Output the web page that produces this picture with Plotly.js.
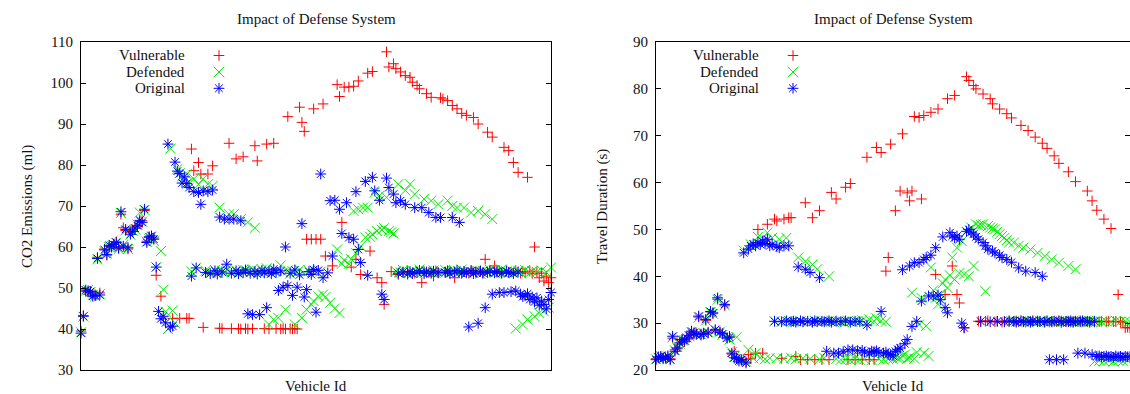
<!DOCTYPE html>
<html>
<head>
<meta charset="utf-8">
<script src="https://cdn.plot.ly/plotly-3.0.1.min.js"></script>
<style>html,body{margin:0;padding:0;background:#fff;}#chart{width:1130px;height:394px;}</style>
</head>
<body>
<div id="chart"></div>
<script>
// ---------- DATA: [vehicle id, value] ----------
const chartTitle = 'Impact of Defense System';
const seriesNames = ['Vulnerable', 'Defended', 'Original'];
const xLabel = 'Vehicle Id';
const co2Label = 'CO2 Emissions (ml)';
const timeLabel = 'Travel Duration (s)';

// CO2 Emissions (ml)
const co2Vulnerable = [[0,39.5],[1,43.3],[2,49.2],[3,49.0],[4,48.8],[5,48.5],[6,48.1],[7,57.5],[8,48.8],[10,59.5],[11,58.0],[12,60.1],[13,60.2],[14,60.8],[15,61.3],[16,59.6],[17,68.0],[18,64.7],[19,64.0],[20,59.5],[21,63.5],[22,64.2],[23,64.9],[24,65.0],[25,66.2],[26,66.4],[27,68.9],[28,61.4],[29,62.3],[30,62.0],[31,62.2],[32,53.1],[34,48.0],[39,42.6],[42,42.6],[45,42.6],[46,42.6],[47,83.9],[48,78.6],[50,80.6],[51,77.8],[52,40.4],[54,77.8],[56,79.8],[59,40.2],[60,40.1],[63,85.3],[64,40.1],[66,81.5],[67,40.1],[68,40.0],[69,82.0],[70,40.1],[71,40.0],[73,40.1],[74,84.7],[75,81.0],[78,40.1],[79,85.1],[80,40.0],[82,85.3],[83,40.1],[85,40.0],[86,40.1],[87,40.0],[88,91.8],[89,40.1],[90,40.0],[91,40.1],[92,40.0],[93,94.1],[94,90.4],[95,88.2],[96,61.9],[98,61.9],[99,93.7],[100,61.9],[102,61.9],[103,94.9],[104,57.8],[107,55.4],[109,99.6],[110,96.7],[111,66.0],[112,99.0],[114,99.0],[115,55.1],[116,99.2],[117,57.0],[118,100.5],[119,53.3],[122,102.4],[123,59.0],[124,102.8],[126,52.5],[128,51.3],[129,46.0],[130,107.6],[131,103.9],[132,54.0],[133,104.7],[134,103.5],[135,53.3],[136,102.7],[137,53.8],[138,101.8],[139,54.1],[140,101.4],[141,100.2],[142,53.6],[143,99.4],[144,98.6],[145,51.3],[146,54.0],[147,97.4],[148,53.8],[149,96.5],[150,52.9],[151,54.2],[152,53.7],[153,96.4],[154,96.1],[155,53.9],[156,95.7],[157,54.1],[158,94.5],[159,52.5],[160,93.7],[161,53.8],[162,92.6],[163,54.0],[164,92.1],[165,53.6],[166,54.2],[167,91.6],[168,53.9],[169,90.0],[170,54.1],[171,53.7],[172,57.0],[173,88.0],[174,54.0],[175,86.8],[176,55.4],[177,53.8],[178,54.1],[179,53.7],[180,84.3],[182,83.5],[183,53.9],[184,80.6],[185,54.2],[186,78.2],[187,53.6],[188,54.0],[189,53.7],[190,77.0],[191,54.1],[192,53.5],[193,60.0],[194,53.9],[195,52.5],[196,53.6],[197,51.7],[198,52.9],[199,51.3],[200,52.5]];

const co2Defended = [[0,39.2],[1,43.0],[2,49.3],[3,49.5],[4,49.0],[5,48.3],[6,48.0],[7,57.0],[8,48.5],[10,59.0],[11,58.5],[12,60.0],[13,60.3],[14,60.5],[15,61.0],[16,59.5],[17,68.3],[18,60.5],[19,64.0],[20,59.5],[21,63.0],[22,64.0],[23,64.3],[24,65.5],[25,68.4],[26,66.2],[27,69.0],[28,61.3],[29,62.0],[30,62.5],[31,61.5],[32,55.1],[34,59.0],[35,49.6],[36,44.2],[37,40.0],[38,84.0],[39,44.5],[40,41.5],[41,79.0],[42,78.0],[43,77.2],[44,76.5],[45,77.8],[46,75.8],[47,54.0],[48,76.6],[49,55.0],[50,75.3],[52,76.6],[53,54.2],[54,75.3],[55,53.8],[56,74.9],[57,54.4],[58,53.7],[59,69.6],[60,54.2],[61,53.8],[62,54.5],[63,68.0],[64,53.9],[65,68.0],[66,54.3],[67,53.6],[68,66.8],[69,54.4],[70,54.1],[71,66.0],[72,53.8],[73,54.6],[74,64.7],[75,54.2],[76,53.7],[77,54.5],[78,53.9],[79,54.8],[80,41.1],[81,53.6],[82,42.3],[83,54.2],[84,42.7],[85,55.5],[86,53.8],[87,44.7],[88,54.3],[89,53.5],[90,54.1],[91,41.1],[92,53.9],[93,54.4],[94,42.7],[95,53.6],[96,44.7],[97,54.2],[98,46.0],[99,46.8],[100,53.8],[101,48.0],[102,54.0],[103,48.4],[104,47.8],[106,46.4],[108,45.0],[109,59.4],[110,43.9],[111,55.9],[112,56.8],[114,55.9],[115,57.0],[116,68.8],[117,58.5],[118,69.2],[119,60.2],[120,69.6],[121,62.3],[122,69.6],[123,62.5],[124,63.1],[125,73.3],[126,63.9],[127,72.5],[128,64.2],[129,64.6],[130,72.1],[131,63.9],[132,63.6],[133,63.3],[134,54.1],[135,75.3],[136,53.8],[137,54.4],[138,73.8],[139,53.6],[140,75.3],[141,54.2],[142,72.9],[143,53.9],[144,54.5],[145,53.7],[146,71.7],[147,54.1],[148,53.8],[149,71.3],[150,54.3],[151,53.6],[152,70.4],[153,54.0],[154,53.8],[155,54.4],[156,71.3],[157,53.7],[158,70.0],[159,54.2],[160,69.6],[161,53.9],[162,54.5],[163,69.6],[164,53.6],[165,54.1],[166,68.4],[167,53.8],[168,54.3],[169,68.8],[170,53.5],[171,54.2],[172,68.0],[173,53.9],[174,54.4],[175,66.8],[176,53.7],[177,54.1],[178,53.8],[179,54.5],[180,53.6],[181,54.0],[182,53.7],[183,54.3],[184,53.9],[185,40.1],[186,54.2],[187,53.8],[188,41.1],[189,54.4],[190,42.3],[191,53.7],[192,54.1],[193,43.1],[194,53.9],[195,43.9],[196,54.3],[197,44.3],[198,53.8],[199,45.2],[200,55.0]];

const co2Original = [[0,39.0],[1,43.1],[2,49.5],[3,49.3],[4,49.1],[5,48.0],[6,48.2],[7,57.2],[8,48.3],[10,59.3],[11,58.2],[12,60.4],[13,60.0],[14,60.6],[15,61.1],[16,59.8],[17,68.6],[18,60.2],[19,64.3],[20,59.8],[21,63.1],[22,63.8],[23,64.6],[24,65.2],[25,66.5],[26,66.0],[27,69.2],[28,61.1],[29,62.5],[30,62.7],[31,61.9],[32,55.1],[33,44.3],[34,42.5],[35,43.1],[36,41.5],[37,85.1],[38,40.5],[39,40.7],[40,80.7],[41,78.5],[42,77.9],[43,75.6],[44,77.1],[45,75.5],[46,74.5],[47,52.9],[48,73.5],[49,54.9],[50,73.3],[51,70.4],[52,73.7],[53,53.8],[54,73.5],[55,53.5],[56,73.9],[57,54.2],[58,53.4],[59,67.3],[60,53.9],[61,66.8],[62,55.8],[63,66.8],[64,53.6],[65,66.8],[66,54.2],[67,53.5],[68,66.4],[69,53.8],[70,54.4],[71,43.7],[72,53.6],[73,43.5],[74,54.0],[75,53.4],[76,43.5],[77,54.3],[78,53.7],[79,45.2],[80,54.1],[81,53.5],[82,54.6],[83,53.8],[84,49.4],[85,54.2],[86,50.2],[87,60.0],[88,50.6],[89,53.6],[90,48.2],[91,54.4],[92,50.2],[93,53.2],[94,65.7],[95,47.8],[96,49.6],[97,54.0],[98,53.3],[99,54.5],[100,44.1],[101,54.3],[102,77.8],[103,52.5],[105,53.7],[106,71.3],[107,57.8],[108,71.4],[110,69.2],[111,63.3],[113,70.8],[114,62.3],[116,61.9],[117,73.5],[118,59.4],[119,56.2],[121,76.0],[122,53.1],[124,77.0],[125,73.7],[127,71.4],[128,48.5],[129,47.2],[130,76.8],[131,74.5],[133,72.9],[134,70.8],[135,53.6],[136,71.3],[137,53.9],[138,70.4],[139,53.4],[140,54.0],[141,53.5],[142,69.6],[143,53.8],[144,54.3],[145,69.6],[146,53.5],[147,53.9],[148,68.4],[149,53.6],[150,54.1],[151,67.2],[152,53.7],[153,67.2],[155,53.8],[156,54.2],[157,53.5],[158,67.2],[159,53.9],[160,54.3],[161,66.0],[162,53.6],[163,54.0],[164,53.7],[165,40.5],[166,54.2],[167,53.5],[168,53.9],[169,41.4],[170,54.1],[171,53.6],[172,45.2],[173,53.8],[174,54.2],[175,48.5],[176,53.7],[177,54.0],[178,48.9],[179,53.6],[180,48.9],[181,54.1],[182,53.8],[183,49.1],[184,53.5],[185,49.3],[186,53.9],[187,48.5],[188,47.9],[189,48.1],[190,48.6],[191,47.2],[192,47.8],[193,46.6],[194,47.6],[195,45.8],[196,46.8],[197,46.0],[198,44.9],[199,47.2],[200,48.9]];

// Travel Duration (s)
const timeVulnerable = [[0,22.4],[1,22.7],[2,22.8],[3,22.6],[4,22.5],[5,22.8],[6,22.4],[7,26.8],[8,24.3],[9,24.5],[10,25.5],[11,26.4],[12,26.0],[13,26.6],[14,27.0],[15,28.1],[16,27.6],[17,27.8],[18,31.3],[19,27.7],[20,27.6],[21,30.6],[22,28.1],[23,32.4],[24,32.0],[25,28.4],[26,35.1],[27,28.1],[28,27.8],[29,33.7],[30,26.9],[31,27.2],[32,23.4],[33,24.0],[34,22.6],[35,22.3],[36,22.0],[37,22.2],[38,21.7],[39,23.3],[40,22.4],[42,23.6],[43,50.0],[45,23.6],[47,51.1],[50,52.2],[51,51.8],[53,22.5],[54,52.2],[56,52.5],[57,52.5],[59,22.9],[61,22.2],[63,55.7],[64,22.2],[66,52.5],[67,22.2],[69,54.0],[70,22.2],[73,22.2],[74,57.9],[76,56.5],[80,59.0],[81,22.2],[82,59.8],[84,22.2],[87,22.2],[89,65.4],[90,22.2],[92,22.2],[93,67.5],[95,66.4],[97,41.1],[98,44.0],[99,68.2],[101,54.0],[103,58.2],[104,70.4],[106,57.8],[107,56.1],[108,58.2],[109,74.1],[111,73.9],[112,56.5],[113,74.3],[116,75.0],[118,40.4],[119,75.7],[122,36.1],[123,77.9],[125,42.2],[126,78.6],[127,36.1],[128,34.3],[130,29.0],[131,82.6],[132,81.8],[134,80.7],[135,80.0],[136,30.4],[137,30.3],[138,78.9],[139,30.4],[140,30.5],[141,77.9],[142,76.8],[143,30.3],[144,30.4],[145,75.7],[146,30.2],[147,30.4],[148,74.7],[149,30.3],[150,73.8],[151,30.4],[152,30.5],[153,30.3],[154,72.2],[155,30.4],[156,30.2],[157,71.1],[158,30.4],[159,30.3],[160,69.7],[161,30.5],[162,30.3],[163,68.4],[164,30.4],[165,67.3],[166,30.2],[167,30.4],[168,65.7],[169,30.3],[170,64.1],[171,30.5],[172,30.3],[173,30.4],[174,62.3],[175,30.2],[176,30.4],[177,60.2],[178,30.3],[179,30.5],[180,30.4],[181,30.3],[182,58.2],[183,30.4],[184,56.1],[185,30.2],[186,54.1],[187,30.3],[188,30.4],[189,52.2],[190,30.3],[191,30.4],[192,50.2],[193,30.3],[194,30.4],[195,36.1],[196,30.3],[197,30.2],[198,29.0],[199,29.1],[200,29.0]];

const timeDefended = [[0,22.3],[1,22.6],[2,23.0],[3,22.5],[4,22.7],[5,22.9],[6,22.3],[7,27.0],[8,24.2],[9,24.9],[10,25.6],[11,26.3],[12,26.4],[13,26.9],[14,27.2],[15,28.0],[16,27.8],[17,27.4],[18,31.2],[19,27.6],[20,27.9],[21,30.5],[22,28.0],[23,32.3],[24,32.0],[25,28.5],[26,35.0],[27,28.2],[28,27.5],[29,33.8],[30,27.0],[31,26.5],[32,23.8],[33,22.8],[34,27.0],[35,22.4],[36,22.0],[37,45.5],[38,21.8],[39,24.3],[40,46.8],[41,22.5],[42,23.6],[43,48.4],[44,22.6],[45,48.0],[46,22.3],[47,49.3],[48,22.5],[49,48.2],[50,30.4],[51,22.5],[52,47.9],[53,30.3],[54,22.4],[55,48.2],[56,30.5],[57,22.6],[58,30.3],[59,22.3],[60,44.0],[61,30.4],[62,22.5],[63,43.2],[64,30.2],[65,22.4],[66,42.5],[67,30.5],[68,41.5],[69,22.3],[70,30.3],[71,22.6],[72,30.4],[73,40.0],[74,30.5],[75,30.2],[76,22.4],[77,30.4],[78,22.2],[79,30.3],[80,22.3],[81,30.5],[82,22.1],[83,30.2],[84,22.4],[85,30.4],[86,22.2],[87,30.6],[88,22.3],[89,30.3],[90,30.8],[91,22.1],[92,30.4],[93,31.0],[94,22.4],[95,30.5],[96,22.2],[97,30.3],[98,22.3],[99,23.0],[100,22.4],[101,22.8],[102,22.5],[103,22.6],[104,23.0],[105,23.3],[106,22.4],[107,22.7],[108,36.5],[109,22.4],[110,23.8],[111,29.7],[112,35.4],[113,23.6],[114,29.4],[115,23.0],[116,41.9],[117,37.0],[118,35.4],[119,34.0],[120,36.2],[121,38.5],[122,39.3],[123,37.5],[124,40.2],[125,44.0],[126,39.3],[127,46.1],[128,40.7],[129,47.5],[130,40.4],[131,49.5],[132,40.0],[133,50.4],[134,42.2],[135,51.1],[136,50.8],[137,51.0],[138,51.1],[139,36.8],[140,50.7],[141,50.4],[142,50.2],[143,50.0],[144,49.5],[145,49.0],[146,48.6],[147,48.2],[148,47.7],[149,47.2],[150,30.4],[151,47.2],[152,30.3],[153,46.5],[154,30.4],[155,46.1],[156,30.5],[157,30.2],[158,45.7],[159,30.4],[160,30.3],[161,45.0],[162,30.5],[163,30.4],[164,44.3],[165,30.2],[166,30.5],[167,43.6],[168,30.3],[169,30.4],[170,42.9],[171,30.2],[172,30.5],[173,30.3],[174,42.2],[175,30.4],[176,30.5],[177,41.5],[178,30.2],[179,30.4],[180,30.3],[181,30.5],[182,30.2],[183,30.4],[184,30.3],[185,21.8],[186,30.5],[187,22.0],[188,30.3],[189,21.9],[190,30.4],[191,22.1],[192,30.2],[193,21.8],[194,30.5],[195,22.0],[196,30.3],[197,21.9],[198,30.4],[199,22.0],[200,30.3]];

const timeOriginal = [[0,22.2],[1,22.8],[2,22.9],[3,22.4],[4,22.6],[5,23.0],[6,22.2],[7,27.2],[8,24.0],[9,24.7],[10,25.8],[11,26.5],[12,26.2],[13,26.8],[14,27.4],[15,28.3],[16,27.9],[17,27.6],[18,31.5],[19,27.5],[20,27.8],[21,30.8],[22,27.9],[23,32.5],[24,32.2],[25,28.6],[26,35.4],[27,28.0],[28,27.7],[29,34.0],[30,26.8],[31,27.0],[32,23.6],[33,22.6],[34,22.5],[35,21.9],[36,22.2],[37,45.0],[38,21.5],[39,45.8],[40,46.5],[41,46.9],[42,46.5],[43,47.2],[44,46.8],[45,47.5],[46,47.0],[47,47.9],[48,46.5],[49,46.8],[50,30.4],[51,46.3],[52,46.1],[53,30.3],[54,46.5],[55,30.5],[56,46.5],[57,30.3],[58,30.4],[59,30.2],[60,42.0],[61,30.5],[62,30.3],[63,41.5],[64,30.4],[65,40.8],[66,30.2],[67,30.5],[68,30.3],[69,39.7],[70,30.4],[71,30.3],[72,24.0],[73,30.5],[74,30.2],[75,23.6],[76,30.4],[77,23.6],[78,30.3],[79,23.9],[80,30.5],[81,24.3],[82,30.2],[83,24.3],[84,30.4],[85,24.1],[86,30.3],[87,24.2],[88,23.8],[89,29.6],[90,23.6],[91,24.0],[92,23.9],[93,24.1],[94,23.7],[95,32.5],[96,23.6],[97,23.8],[98,23.4],[99,23.3],[100,23.0],[101,24.0],[102,24.4],[103,24.7],[104,41.4],[105,25.6],[106,26.5],[107,42.2],[108,29.3],[109,42.9],[110,30.4],[111,42.9],[112,34.7],[113,43.6],[114,44.0],[115,35.8],[116,44.5],[117,35.8],[118,46.1],[119,36.0],[120,35.0],[121,48.4],[122,33.3],[123,32.2],[124,49.3],[125,48.6],[126,48.2],[127,48.6],[128,47.9],[129,30.0],[130,29.0],[131,49.6],[132,50.0],[133,49.4],[134,49.0],[135,48.4],[136,47.9],[137,30.4],[138,47.2],[139,46.5],[140,45.8],[141,30.3],[142,45.4],[143,45.0],[144,30.4],[145,44.5],[146,44.0],[147,30.3],[148,43.6],[149,30.5],[150,43.0],[151,30.4],[152,30.2],[153,41.8],[154,30.5],[155,30.3],[156,41.1],[157,30.4],[158,30.2],[159,30.5],[160,40.8],[161,30.3],[162,30.4],[163,40.0],[164,30.2],[165,30.5],[166,22.2],[167,30.3],[168,30.4],[169,22.2],[170,30.5],[171,30.2],[172,22.2],[173,30.4],[174,30.3],[175,30.5],[176,30.2],[177,30.4],[178,23.6],[179,30.3],[180,30.5],[181,23.6],[182,30.4],[183,30.2],[184,23.3],[185,30.4],[186,22.9],[187,23.0],[188,22.8],[189,22.9],[190,23.0],[191,22.8],[192,22.9],[193,22.7],[194,23.0],[195,22.8],[196,22.9],[197,22.7],[198,22.9],[199,22.8],[200,22.9]];

// ---------- STYLE / LAYOUT ----------
const W = 1130, H = 394;
const FONT = 'Liberation Serif';
const colors = ['#ff0000', '#00ee00', '#0000ff'];
const symbols = ['cross-thin-open', 'x-thin-open', 'asterisk-open'];
const sizes = [7.5, 10, 9];

const px = v => v / W;       // horizontal pixel -> paper
const py = v => 1 - v / H;   // vertical pixel -> paper

const leftDom = [px(81), px(551)];
const rightDom = [px(656), px(1130)];
const yDom = [py(370), py(42)];

function makeTrace(pairs, i, xa, ya) {
  return {
    type: 'scatter', mode: 'markers', name: seriesNames[i],
    x: pairs.map(p => p[0]), y: pairs.map(p => p[1]),
    xaxis: xa, yaxis: ya, cliponaxis: false, showlegend: false,
    marker: {symbol: symbols[i], size: sizes[i], color: colors[i],
             line: {color: colors[i], width: 1}}
  };
}

const data = [
  makeTrace(co2Vulnerable, 0, 'x', 'y'),
  makeTrace(co2Defended, 1, 'x', 'y'),
  makeTrace(co2Original, 2, 'x', 'y'),
  makeTrace(timeVulnerable, 0, 'x2', 'y2'),
  makeTrace(timeDefended, 1, 'x2', 'y2'),
  makeTrace(timeOriginal, 2, 'x2', 'y2')
];

const axLine = {showline: true, linecolor: '#000', linewidth: 1, zeroline: false, showgrid: false};
const xAx = dom => Object.assign({}, axLine, {domain: dom, range: [0, 200], mirror: true,
  showticklabels: false, ticks: '', fixedrange: true});
const yAx = (dom, range, anchor) => Object.assign({}, axLine, {domain: dom, range: range, dtick: 10,
  tick0: 0, mirror: 'ticks', ticks: 'inside', ticklen: 5, tickcolor: '#000', tickwidth: 1,
  anchor: anchor, ticklabelstandoff: 4,
  tickfont: {family: FONT, size: 15, color: '#111'}});

const textFont = {family: FONT, size: 15, color: '#111'};
const annotations = [];
const shapes = [];

function addPanelText(xc, ylabX, ylab) {
  annotations.push({xref: 'paper', yref: 'paper', x: px(xc), y: py(19), text: chartTitle,
    showarrow: false, xanchor: 'center', yanchor: 'middle', font: textFont});
  annotations.push({xref: 'paper', yref: 'paper', x: px(xc), y: py(386), text: xLabel,
    showarrow: false, xanchor: 'center', yanchor: 'middle', font: textFont});
  annotations.push({xref: 'paper', yref: 'paper', x: px(ylabX), y: py(207), text: ylab,
    textangle: -90, showarrow: false, xanchor: 'center', yanchor: 'middle', font: textFont});
}
addPanelText(316, 27, co2Label);
addPanelText(893, 602, timeLabel);

// legend (gnuplot style: text right-aligned, key symbol to its right)
const keyPaths = [
  'M-5.3,0H5.3M0,-5.3V5.3',
  'M-5.3,-5.3L5.3,5.3M-5.3,5.3L5.3,-5.3',
  'M-5.4,0H5.4M0,-5.4V5.4M-3.8,-3.8L3.8,3.8M-3.8,3.8L3.8,-3.8'
];
const legendRows = [55.5, 72, 88.3];
function addLegend(textRight, keyX) {
  seriesNames.forEach((name, i) => {
    annotations.push({xref: 'paper', yref: 'paper', x: px(textRight), y: py(legendRows[i]),
      text: name, showarrow: false, xanchor: 'right', yanchor: 'middle', font: textFont});
    shapes.push({type: 'path', xref: 'paper', yref: 'paper', xsizemode: 'pixel', ysizemode: 'pixel',
      xanchor: px(keyX), yanchor: py(legendRows[i]), path: keyPaths[i],
      line: {color: colors[i], width: 1}});
  });
}
addLegend(187, 219);
addLegend(761, 793);

const layout = {
  width: W, height: H,
  margin: {l: 0, r: 0, t: 0, b: 0},
  paper_bgcolor: '#fff', plot_bgcolor: '#fff',
  showlegend: false,
  font: {family: FONT, size: 15, color: '#111'},
  xaxis: xAx(leftDom),
  yaxis: yAx(yDom, [30, 110], 'x'),
  xaxis2: Object.assign(xAx(rightDom), {anchor: 'y2'}),
  yaxis2: yAx(yDom, [20, 90], 'x2'),
  annotations: annotations,
  shapes: shapes
};
layout.xaxis.anchor = 'y';

Plotly.newPlot('chart', data, layout, {displayModeBar: false, staticPlot: true});
</script>
</body>
</html>
